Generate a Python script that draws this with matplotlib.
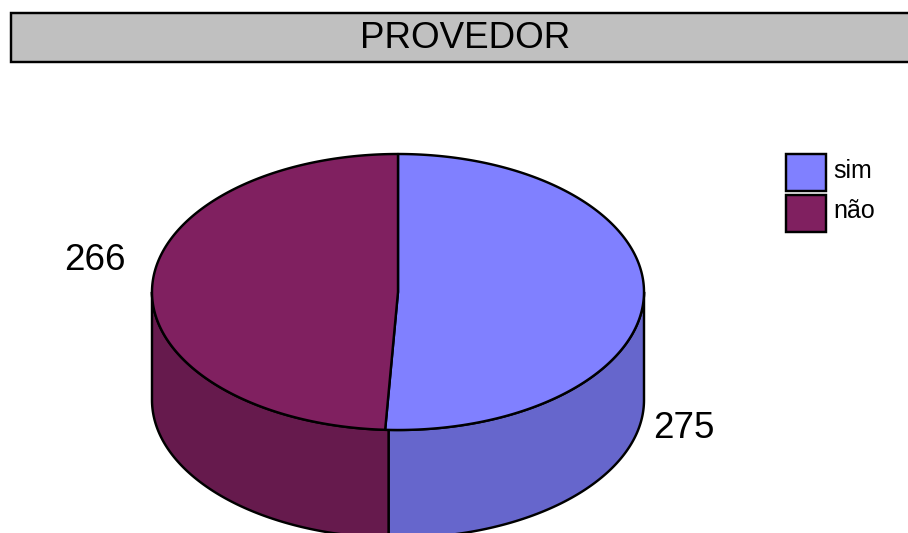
import numpy as np
import matplotlib
matplotlib.use("Agg")
import matplotlib.pyplot as plt
from matplotlib.patches import Polygon, Rectangle

title = "PROVEDOR"
categories = ["sim", "não"]
values = [275, 266]
top_colors = ["#8080ff", "#802060"]
side_colors = ["#6666cc", "#661a4d"]

W, H = 908, 533
plt.rcParams["font.family"] = ["Liberation Sans", "DejaVu Sans"]
fig = plt.figure(figsize=(W / 100, H / 100), dpi=100)
ax = fig.add_axes([0, 0, 1, 1])
ax.set_xlim(0, W)
ax.set_ylim(H, 0)
ax.axis("off")

cx, cy, rx, ry, depth = 398, 292, 246, 138, 108
LW = 1.75
WALL_SKEW = np.deg2rad(-0.8)  # the wall divider sits slightly right of the top divider


def pt(theta):
    """Theta is measured clockwise from the top of the ellipse."""
    return cx + rx * np.sin(theta), cy - ry * np.cos(theta)


fractions = np.array(values) / sum(values)
edges = np.concatenate([[0], np.cumsum(fractions)]) * 2 * np.pi
wall_edges = edges + WALL_SKEW

# Side walls: only the front half (pi/2 .. 3pi/2) is visible
for i in range(len(values)):
    a0 = max(wall_edges[i], np.pi / 2)
    a1 = min(wall_edges[i + 1], 3 * np.pi / 2)
    if a1 <= a0:
        continue
    th = np.linspace(a0, a1, 200)
    x, y = pt(th)
    xy = np.vstack([np.column_stack([x, y]),
                    np.column_stack([x[::-1], y[::-1] + depth])])
    ax.add_patch(Polygon(xy, closed=True, facecolor=side_colors[i],
                         edgecolor="black", linewidth=LW, joinstyle="round"))

# Top faces
for i in range(len(values)):
    th = np.linspace(edges[i], edges[i + 1], 400)
    x, y = pt(th)
    xy = np.vstack([[cx, cy], np.column_stack([x, y])])
    ax.add_patch(Polygon(xy, closed=True, facecolor=top_colors[i],
                         edgecolor="black", linewidth=LW, joinstyle="round"))

# Title band
ax.add_patch(Rectangle((11, 13), W + 20, 49, facecolor="#c0c0c0",
                       edgecolor="black", linewidth=LW, clip_on=True))
ax.text(465, 38.5, title, fontsize=26.5, ha="center", va="center", color="black")

# Value labels
ax.text(95, 260, str(values[1]), fontsize=26.5, ha="center", va="center")
ax.text(684, 428, str(values[0]), fontsize=26.5, ha="center", va="center")

# Legend
for i, (name, c) in enumerate(zip(categories, top_colors)):
    y0 = 154 + i * 41
    ax.add_patch(Rectangle((786, y0), 40, 37, facecolor=c, edgecolor="black", linewidth=LW))
    ax.text(833, y0 + 16.5, name, fontsize=18, ha="left", va="center")

fig.savefig("out.png", dpi=100)
